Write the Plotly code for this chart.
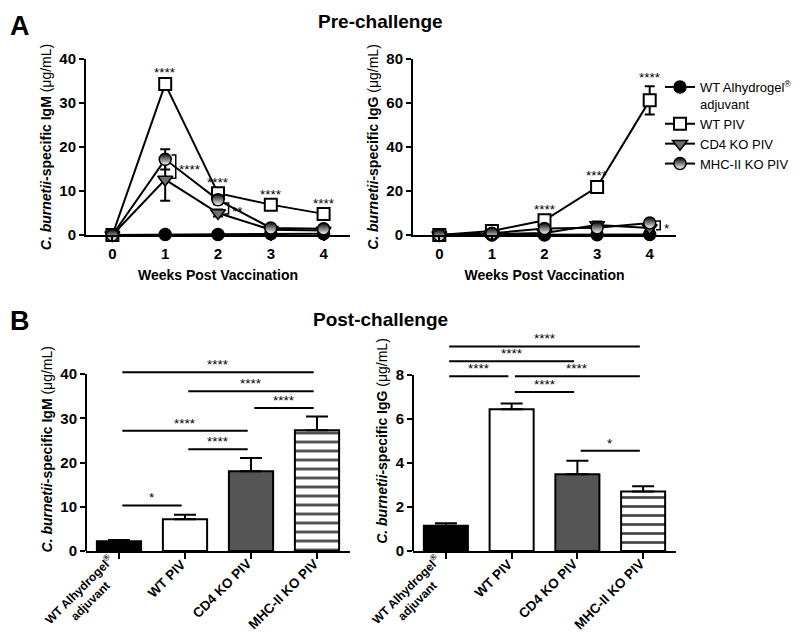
import plotly.graph_objects as go

# ---- pre-challenge time course ----
weeks = [0, 1, 2, 3, 4]

igm_alhy = [0.0, 0.1, 0.1, 0.3, 0.3]
igm_alhy_err = [0, 0, 0, 0, 0]
igm_wt = [0.0, 34.3, 9.5, 6.9, 4.8]
igm_wt_err = [0, 0.6, 0.6, 0.4, 0.4]
igm_cd4 = [0.0, 12.6, 5.0, 1.2, 1.0]
igm_cd4_err = [0, 4.8, 0.8, 0.3, 0.2]
igm_mhc = [0.0, 17.2, 8.0, 1.6, 1.4]
igm_mhc_err = [0, 2.3, 1.0, 0.3, 0.3]

igg_alhy = [0.0, 0.0, 0.0, 0.1, 0.2]
igg_alhy_err = [0, 0, 0, 0, 0]
igg_wt = [0.0, 1.8, 6.7, 21.8, 61.2]
igg_wt_err = [0, 0.3, 0.9, 1.6, 6.4]
igg_cd4 = [0.0, 0.3, 0.9, 4.6, 3.2]
igg_cd4_err = [0, 0.2, 0.4, 1.5, 0.8]
igg_mhc = [0.0, 0.8, 2.9, 3.3, 5.5]
igg_mhc_err = [0, 0.2, 0.6, 1.0, 0.9]

wt_stars_igm = ["", "****", "****", "****", "****"]
wt_stars_igg = ["", "", "****", "****", "****"]

# brackets: (week, low, high, label)
igm_brackets = [(1, 12.9, 18.2, "****"), (2, 4.8, 7.3, "**")]
igg_brackets = [(4, 2.4, 6.4, "*")]

# ---- post-challenge bars ----
groups = ["WT Alhydrogel<sup>®</sup><br>adjuvant", "WT PIV", "CD4 KO PIV", "MHC-II KO PIV"]
post_igm = [2.2, 7.2, 18.0, 27.3]
post_igm_err = [0.3, 1.0, 3.0, 3.1]
post_igg = [1.15, 6.44, 3.49, 2.71]
post_igg_err = [0.11, 0.27, 0.61, 0.23]

# comparisons: (group a, group b, height, label)
igm_sig = [(0, 1, 10.3, "*"), (1, 2, 23.0, "****"), (0, 2, 27.2, "****"),
           (2, 3, 32.3, "****"), (1, 3, 36.1, "****"), (0, 3, 40.4, "****")]
igg_sig = [(0, 3, 9.3, "****"), (0, 2, 8.62, "****"), (0, 1, 7.94, "****"),
           (1, 3, 7.94, "****"), (1, 2, 7.23, "****"), (2, 3, 4.56, "*")]

FONT = "Arial, Liberation Sans, sans-serif"
series_names = ["WT Alhydrogel<sup>®</sup><br>adjuvant", "WT PIV", "CD4 KO PIV", "MHC-II KO PIV"]

fig = go.Figure()


def add_series(xa, ya, vals, errs, name, marker, legend):
    fig.add_trace(go.Scatter(
        x=weeks, y=vals, mode="lines+markers", name=name,
        xaxis=xa, yaxis=ya, showlegend=legend, cliponaxis=False,
        line=dict(color="black", width=2),
        marker=marker,
        error_y=dict(type="data", array=errs, color="black", thickness=2, width=5),
    ))


m_alhy = dict(symbol="circle", size=12, color="black", line=dict(color="black", width=1.5))
m_wt = dict(symbol="square", size=12, color="white", line=dict(color="black", width=2))
m_cd4 = dict(symbol="triangle-down", size=13, color="#6e6e6e", line=dict(color="black", width=1.5))
m_mhc = dict(symbol="circle", size=12, color="black", line=dict(color="black", width=1.5),
             gradient=dict(type="vertical", color="white"))

add_series("x", "y", igm_alhy, igm_alhy_err, series_names[0], m_alhy, True)
add_series("x", "y", igm_wt, igm_wt_err, series_names[1], m_wt, True)
add_series("x", "y", igm_cd4, igm_cd4_err, series_names[2], m_cd4, True)
add_series("x", "y", igm_mhc, igm_mhc_err, series_names[3], m_mhc, True)

add_series("x2", "y2", igg_alhy, igg_alhy_err, series_names[0], m_alhy, False)
add_series("x2", "y2", igg_wt, igg_wt_err, series_names[1], m_wt, False)
add_series("x2", "y2", igg_cd4, igg_cd4_err, series_names[2], m_cd4, False)
add_series("x2", "y2", igg_mhc, igg_mhc_err, series_names[3], m_mhc, False)

bar_colors = ["black", "white", "#555555", "white"]
bar_patterns = ["", "", "", "-"]
cat_pos = list(range(len(groups)))


def add_bars(xa, ya, vals, errs):
    fig.add_trace(go.Bar(
        x=cat_pos, y=vals, xaxis=xa, yaxis=ya, showlegend=False, width=0.67,
        marker=dict(color=bar_colors, line=dict(color="black", width=2),
                    pattern=dict(shape=bar_patterns, fgcolor="black", bgcolor="white",
                                 fgopacity=1, size=9, solidity=0.3)),
        error_y=dict(type="data", array=errs, arrayminus=[0] * len(errs), symmetric=False,
                     color="black", thickness=2, width=11),
    ))


add_bars("x3", "y3", post_igm, post_igm_err)
add_bars("x4", "y4", post_igg, post_igg_err)

shapes = []
annotations = []
star_font = dict(family=FONT, size=13.5, color="black")

# stars above WT PIV points
for xa, ya, vals, errs, stars in [("x", "y", igm_wt, igm_wt_err, wt_stars_igm),
                                   ("x2", "y2", igg_wt, igg_wt_err, wt_stars_igg)]:
    for w, v, e, s in zip(weeks, vals, errs, stars):
        if s:
            annotations.append(dict(x=w, y=v + e, xref=xa, yref=ya, text=s, showarrow=False,
                                    yanchor="bottom", yshift=-1, font=star_font))

# brackets next to time points
for xa, ya, br in [("x", "y", igm_brackets), ("x2", "y2", igg_brackets)]:
    for w, lo, hi, s in br:
        bx = w + 0.2
        shapes.append(dict(type="path", xref=xa, yref=ya,
                           path=f"M {bx - 0.08},{hi} L {bx},{hi} L {bx},{lo} L {bx - 0.08},{lo}",
                           line=dict(color="black", width=1.5)))
        annotations.append(dict(x=bx + 0.03, y=(lo + hi) / 2, xref=xa, yref=ya, text=s,
                                showarrow=False, xanchor="left", yanchor="middle", yshift=-3,
                                font=star_font))

# significance bars
for xa, ya, sig in [("x3", "y3", igm_sig), ("x4", "y4", igg_sig)]:
    for a, b, h, s in sig:
        shapes.append(dict(type="line", xref=xa, yref=ya, x0=a + 0.05, x1=b - 0.05, y0=h, y1=h,
                           line=dict(color="black", width=2)))
        annotations.append(dict(x=(a + b) / 2, y=h, xref=xa, yref=ya, text=s, showarrow=False,
                                yanchor="bottom", yshift=-2, font=star_font))

# rotated group labels under the bars (right-middle of each label near its tick)
for xa, ya in [("x3", "y3"), ("x4", "y4")]:
    for i, g in enumerate(groups):
        n_lines = g.count("<br>") + 1
        size = 12 if n_lines > 1 else 13.5
        h = n_lines * size * 1.3 + 4
        annotations.append(dict(x=i, y=0, xref=xa, yref=ya, text=f"<b>{g}</b>", showarrow=False,
                                textangle=-45, align="center", xanchor="right", yanchor="top",
                                xshift=0.354 * h - 1, yshift=-10 + 0.354 * h,
                                font=dict(family=FONT, size=size, color="black")))

# y axis lines for bar panels (stop at last tick)
shapes.append(dict(type="line", xref="x3 domain", yref="y3", x0=0, x1=0, y0=0, y1=40,
                   line=dict(color="black", width=2)))
shapes.append(dict(type="line", xref="x4 domain", yref="y4", x0=0, x1=0, y0=0, y1=8,
                   line=dict(color="black", width=2)))

# titles and panel letters
for txt, x, y in [("<b>Pre-challenge</b>", 0.465, 1 - 14 / 640),
                  ("<b>Post-challenge</b>", 0.465, 1 - 311 / 640)]:
    annotations.append(dict(x=x, y=y, xref="paper", yref="paper", text=txt, showarrow=False,
                            yanchor="middle", font=dict(family=FONT, size=19, color="black")))
for txt, x, y in [("<b>A</b>", 0.0, 1 - 18 / 640), ("<b>B</b>", 0.0, 1 - 313 / 640)]:
    annotations.append(dict(x=x, y=y, xref="paper", yref="paper", text=txt, showarrow=False,
                            xanchor="left", yanchor="middle", font=dict(family=FONT, size=27, color="black")))

axis_style = dict(showline=True, linecolor="black", linewidth=2, ticks="outside", ticklen=5,
                  tickwidth=2, tickcolor="black", showgrid=False, zeroline=False, automargin=False,
                  tickfont=dict(family=FONT, size=15, color="black", weight="bold"))
title_font = dict(family=FONT, size=14, color="black")

igm_title = "<b><i>C. burnetii</i>-specific IgM</b> (μg/mL)"
igg_title = "<b><i>C. burnetii</i>-specific IgG</b> (μg/mL)"
wk_title = "<b>Weeks Post Vaccination</b>"

top_dom = [1 - 227 / 640, 1 - 51 / 640]
left_dom = [78 / 800, 342 / 800]
right_dom = [405 / 800, 668 / 800]

fig.update_layout(
    width=800, height=640, margin=dict(l=0, r=0, t=0, b=0),
    plot_bgcolor="white", paper_bgcolor="white",
    font=dict(family=FONT, color="black"),
    xaxis=dict(axis_style, domain=left_dom, anchor="y", range=[-0.5, 4.5], tickvals=weeks, ticklen=4,
               title=dict(text=wk_title, font=title_font, standoff=9)),
    yaxis=dict(axis_style, domain=top_dom, anchor="x", range=[0, 40], dtick=10,
               title=dict(text=igm_title, font=title_font, standoff=4)),
    xaxis2=dict(axis_style, domain=right_dom, anchor="y2", range=[-0.5, 4.5], tickvals=weeks, ticklen=4,
                title=dict(text=wk_title, font=title_font, standoff=9)),
    yaxis2=dict(axis_style, domain=top_dom, anchor="x2", range=[0, 80], dtick=20,
                title=dict(text=igg_title, font=title_font, standoff=4)),
    xaxis3=dict(axis_style, domain=left_dom, anchor="y3", range=[-0.5, 3.5], tickvals=cat_pos,
                ticklen=6, showticklabels=False),
    yaxis3=dict(axis_style, domain=[1 - 543 / 640, 1 - 339.5 / 640], anchor="x3", range=[0, 46],
                tickvals=[0, 10, 20, 30, 40], showline=False,
                title=dict(text=igm_title, font=title_font, standoff=4)),
    xaxis4=dict(axis_style, domain=right_dom, anchor="y4", range=[-0.5, 3.5], tickvals=cat_pos,
                ticklen=6, showticklabels=False),
    yaxis4=dict(axis_style, domain=[1 - 543 / 640, 1 - 323 / 640], anchor="x4", range=[0, 10],
                tickvals=[0, 2, 4, 6, 8], showline=False,
                title=dict(text=igg_title, font=title_font, standoff=4)),
    legend=dict(x=652 / 800, y=1 - 64 / 640, xanchor="left", yanchor="top", valign="top",
                font=dict(family=FONT, size=13, color="black"), bgcolor="rgba(0,0,0,0)",
                tracegroupgap=0),
    shapes=shapes,
    annotations=annotations,
    bargap=0.33,
)

fig.write_html("out.html")
